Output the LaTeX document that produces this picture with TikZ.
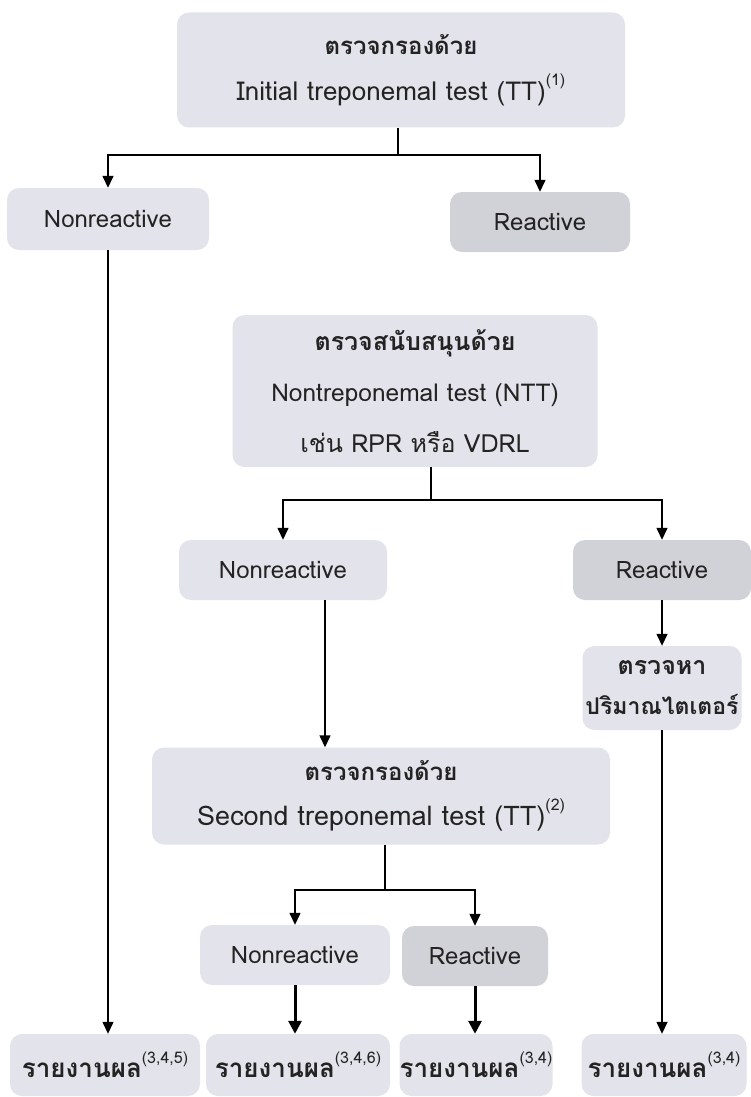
\documentclass[tikz,border=0pt]{standalone}
\usepackage{fontspec}
\setmainfont[Script=Thai]{Loma}
\usetikzlibrary{arrows.meta,calc}
\definecolor{boxlight}{HTML}{E3E3EB}
\definecolor{boxdark}{HTML}{D1D1D8}
\definecolor{txt}{HTML}{232323}
\newcommand{\refsup}[1]{\raisebox{0.55em}{\fontsize{16}{16}\selectfont(#1)}}
\newcommand{\fs}[1]{\fontsize{#1}{#1}\selectfont}
\begin{document}
\begin{tikzpicture}[x=1pt,y=-1pt,
  box/.style={rounded corners=12pt, fill=boxlight, draw=none, text=txt, align=center, inner sep=0pt, font=\fontsize{24}{46}\selectfont},
  dbox/.style={box, fill=boxdark},
  lw/.style={line width=1.4pt, draw=black},
  conn/.style={lw, -{Triangle[length=12pt,width=11pt]}},
  thickconn/.style={line width=3pt, -{Triangle[length=13pt,width=13pt]}}]
\useasboundingbox (0,0) rectangle (751,1097);
\fill[white] (0,0) rectangle (751,1097);

% boxes
\node[box, minimum width=448pt, minimum height=115pt] (t1) at (401,70)
  {{\fs{24}\textbf{ตรวจกรองด้วย}}\\{\fs{26}Initial treponemal test (TT)\refsup{1}}};
\node[box, minimum width=202pt, minimum height=62pt] (n1) at (108,219) {Nonreactive};
\node[dbox, minimum width=180pt, minimum height=60pt] (r1) at (540,222) {Reactive};

\node[box, minimum width=365pt, minimum height=152pt, font=\fontsize{24}{51}\selectfont] (ntt) at (415,391)
  {{\fs{25}\textbf{ตรวจสนับสนุนด้วย}}\\{\fs{24.5}Nontreponemal test (NTT)}\\{\fs{25}เช่น RPR หรือ VDRL}};

\node[box, minimum width=208pt, minimum height=60pt] (n2) at (283,570) {Nonreactive};
\node[dbox, minimum width=178pt, minimum height=60pt] (r2) at (662,570) {Reactive};
\node[box, minimum width=159pt, minimum height=84pt, font=\fontsize{24}{40}\selectfont] (tit) at (662,688)
  {{\fs{25}\textbf{ตรวจหา}}\\{\fs{23}\textbf{ปริมาณไตเตอร์}}};

\node[box, minimum width=458pt, minimum height=97pt, font=\fontsize{24}{45}\selectfont] (s2) at (381,796)
  {{\fs{24}\textbf{ตรวจกรองด้วย}}\\{\fs{27}Second treponemal test (TT)\refsup{2}}};

\node[box, minimum width=190pt, minimum height=60pt] (n3) at (295,955) {Nonreactive};
\node[dbox, minimum width=146pt, minimum height=60pt] (r3) at (475,956) {Reactive};

\node[box, minimum width=190pt, minimum height=62pt, font=\fs{26}] (rep1) at (105,1065) {\textbf{รายงานผล}\refsup{3,4,5}};
\node[box, minimum width=184pt, minimum height=62pt, font=\fs{26}] (rep2) at (298,1065) {\textbf{รายงานผล}\refsup{3,4,6}};
\node[box, minimum width=153pt, minimum height=62pt, font=\fs{26}] (rep3) at (476,1065) {\textbf{รายงานผล}\refsup{3,4}};
\node[box, minimum width=165pt, minimum height=62pt, font=\fs{26}] (rep4) at (664,1065) {\textbf{รายงานผล}\refsup{3,4}};

% connectors
\coordinate (j1) at (398,155);
\draw[lw] (t1.south -| j1) -- (j1);
\draw[conn] (j1) -| (n1.north);
\draw[conn] (j1) -| (r1.north);
\draw[conn] (n1.south) -- (n1.south |- rep1.north);

\coordinate (j2) at (431,500);
\draw[lw] (ntt.south -| j2) -- (j2);
\draw[conn] (j2) -| (n2.north);
\draw[conn] (j2) -| (r2.north);
\draw[conn] (r2.south) -- (tit.north);
\draw[conn] (tit.south) -- (tit.south |- rep4.north);

\coordinate (c2) at (325,0);
\draw[conn] (n2.south -| c2) -- (s2.north -| c2);

\coordinate (j3) at (385,890);
\draw[lw] (s2.south -| j3) -- (j3);
\draw[conn] (j3) -| (n3.north);
\draw[conn] (j3) -| (r3.north);
\draw[thickconn] (n3.south) -- (n3.south |- rep2.north);
\draw[thickconn] (r3.south) -- (r3.south |- rep3.north);
\end{tikzpicture}
\end{document}
